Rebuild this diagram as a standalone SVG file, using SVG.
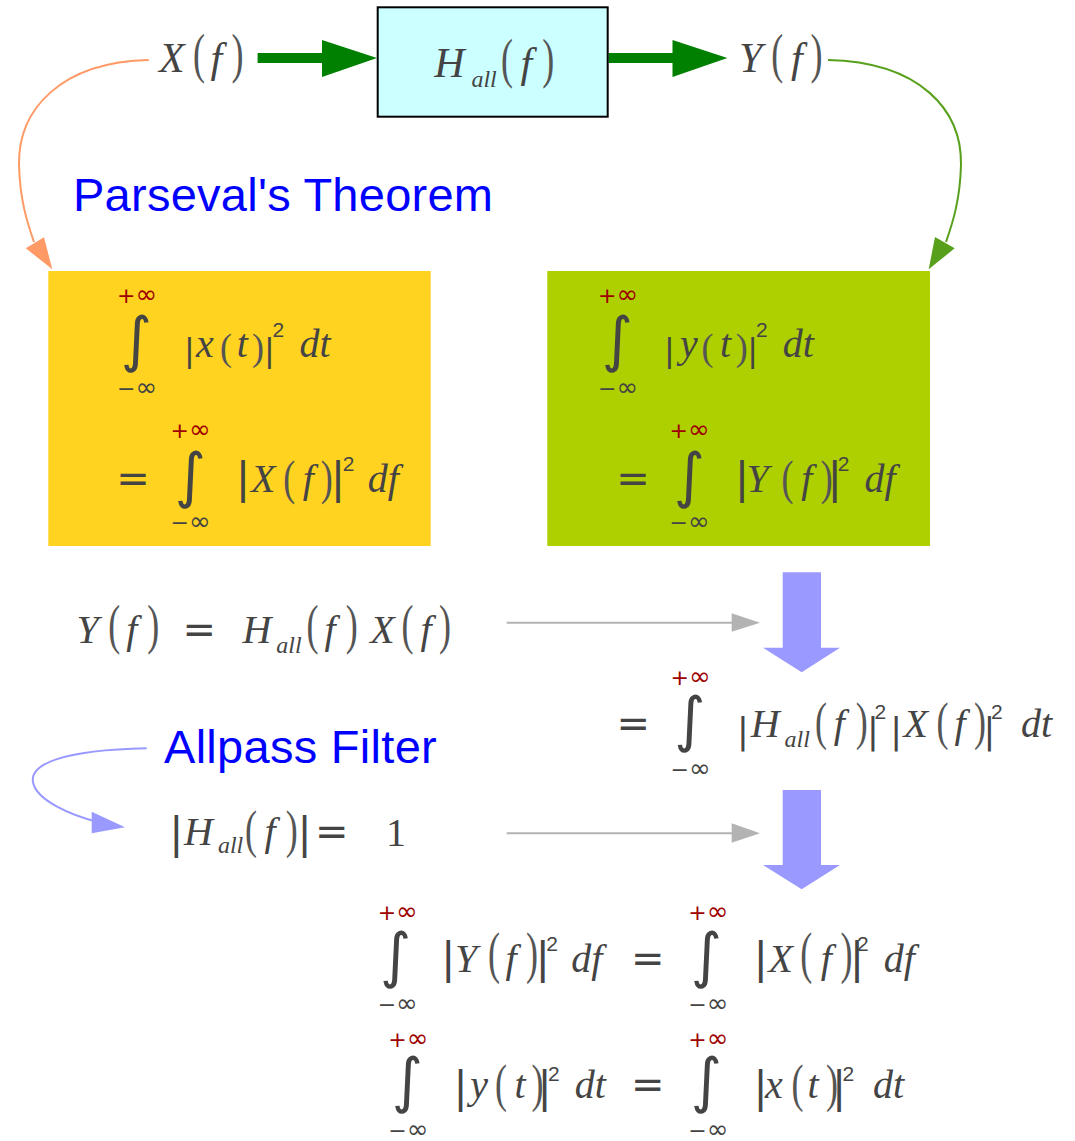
<svg xmlns="http://www.w3.org/2000/svg" width="1075" height="1141" viewBox="0 0 1075 1141">
<style>
.m{font-family:"Liberation Serif",serif;font-style:italic;font-size:40px;fill:#444}
.mt{font-size:42px}
.p{font-family:"Liberation Serif",serif;font-size:36px;fill:#555}
.b{font-family:"DejaVu Sans",sans-serif;fill:#444}
.sub{font-family:"Liberation Serif",serif;font-style:italic;font-size:24px;fill:#444}
.sup{font-family:"Liberation Sans",sans-serif;font-size:21px;fill:#444}
.eq{font-family:"DejaVu Sans",sans-serif;font-size:40px;fill:#444;text-anchor:middle}
.lim{font-family:"DejaVu Sans",sans-serif;font-size:22px;text-anchor:middle}
.inf{font-size:26px}
.hi{fill:#9e0000}
.lo{fill:#444}
.int{font-family:"DejaVu Sans",sans-serif;font-size:60px;fill:#444;text-anchor:middle}
.lbl{font-family:"Liberation Sans",sans-serif;font-size:47px;fill:#0000ff}
.one{font-family:"Liberation Serif",serif;font-size:40px;fill:#444}
.gray{stroke:#b3b3b3;stroke-width:2;fill:none}
.grayh{fill:#b3b3b3}
.blk{fill:#9999ff}
</style>
<g id="connectors">
<line x1="257.6" y1="58" x2="323" y2="58" stroke="#008000" stroke-width="10"/>
<polygon points="322,40 377,58 322,77" fill="#008000"/>
<line x1="608.6" y1="58" x2="673.5" y2="58" stroke="#008000" stroke-width="10"/>
<polygon points="672.5,40 727.4,58 672.5,77" fill="#008000"/>
<path d="M148.8,60 C60,62 18,110 19,165 C20,200 27,222 34,242" fill="none" stroke="#ff9966" stroke-width="2"/>
<polygon points="25.8,248.3 44,237.3 52.3,269.3" fill="#ff9966"/>
<path d="M828,60 C920,62 962,110 961,165 C960,200 953,222 946,242" fill="none" stroke="#58a01c" stroke-width="2"/>
<polygon points="935,237 954.7,248.3 928.7,269.3" fill="#58a01c"/>
<line class="gray" x1="506.7" y1="622.7" x2="733" y2="622.7"/>
<polygon class="grayh" points="731.7,613.3 760,622.7 731.7,631.7"/>
<line class="gray" x1="506.7" y1="833.3" x2="733" y2="833.3"/>
<polygon class="grayh" points="731.7,823.3 760,833.3 731.7,842.7"/>
<polygon class="blk" points="782.7,572.3 821,572.3 821,647.7 840,647.7 801.7,672.3 763,647.7 782.7,647.7"/>
<polygon class="blk" points="782.7,790 821,790 821,865 840,865 801.7,889.3 763,865 782.7,865"/>
<path d="M146.7,748.3 C60,750 30,765 33,782 C36,800 70,815 98,822" fill="none" stroke="#9999ff" stroke-width="2"/>
<polygon class="blk" points="91.7,811.7 91.7,833.3 125,827.3"/>
</g>
<g id="input-X">
<text class="m mt" x="159" y="72">X</text>
<text class="p" transform="translate(192.9,72.2) scale(1,1.531)">(</text>
<text class="m mt" x="210.4" y="72">f</text>
<text class="p" transform="translate(231.4,72.2) scale(1,1.531)">)</text>
</g>
<g id="filter-H">
<rect x="377.7" y="7.3" width="230" height="109.4" fill="#ccffff" stroke="#000" stroke-width="2"/>
<text class="m mt" x="434.3" y="77">H</text>
<text class="sub" x="471.4" y="87">all</text>
<text class="p" transform="translate(501.1,77.2) scale(1,1.531)">(</text>
<text class="m mt" x="520.4" y="77">f</text>
<text class="p" transform="translate(542.2,77.2) scale(1,1.531)">)</text>
</g>
<g id="output-Y">
<text class="m mt" x="739.1" y="72">Y</text>
<text class="p" transform="translate(771.3,72.2) scale(1,1.531)">(</text>
<text class="m mt" x="790.9" y="72">f</text>
<text class="p" transform="translate(810.5,72.2) scale(1,1.531)">)</text>
</g>
<g id="label-parseval">
<text class="lbl" x="73" y="211" textLength="420">Parseval's Theorem</text>
</g>
<g id="box-x">
<rect x="48.3" y="271" width="382.4" height="275" fill="#ffd320"/>
<text class="lim hi" x="137" y="303">+<tspan class="inf">∞</tspan></text>
<text class="int" x="136.5" y="360">∫</text>
<text class="lim lo" x="137" y="396">−<tspan class="inf">∞</tspan></text>
<text class="b" font-size="32" x="183.9" y="360.7">|</text>
<text class="m" x="196.1" y="357">x</text>
<text class="p" transform="translate(220,360.3) scale(1,1.042)">(</text>
<text class="m" x="236.7" y="357">t</text>
<text class="p" transform="translate(252,360.3) scale(1,1.042)">)</text>
<text class="b" font-size="32" x="263.9" y="360.7">|</text>
<text class="sup" x="272.4" y="337">2</text>
<text class="m" x="299.4" y="357">dt</text>
<text class="eq" x="133" y="491.7">=</text>
<text class="lim hi" x="190.5" y="438">+<tspan class="inf">∞</tspan></text>
<text class="int" x="190.5" y="496">∫</text>
<text class="lim lo" x="190.5" y="530">−<tspan class="inf">∞</tspan></text>
<text class="b" font-size="43" x="235.8" y="492.9">|</text>
<text class="m" x="251" y="491.7">X</text>
<text class="p" transform="translate(283.3,494.4) scale(1,1.336)">(</text>
<text class="m" x="302.7" y="491.7">f</text>
<text class="p" transform="translate(320.7,494.4) scale(1,1.336)">)</text>
<text class="b" font-size="43" x="330.8" y="492.9">|</text>
<text class="sup" x="342.7" y="471">2</text>
<text class="m" x="367.7" y="491.7">df</text>
</g>
<g id="box-y">
<rect x="547.3" y="271" width="382.7" height="275" fill="#aecf00"/>
<text class="lim hi" x="618" y="303">+<tspan class="inf">∞</tspan></text>
<text class="int" x="617.5" y="360">∫</text>
<text class="lim lo" x="618" y="396">−<tspan class="inf">∞</tspan></text>
<text class="b" font-size="32" x="663.9" y="360.7">|</text>
<text class="m" x="679.9" y="357">y</text>
<text class="p" transform="translate(701.6,360.3) scale(1,1.042)">(</text>
<text class="m" x="720" y="357">t</text>
<text class="p" transform="translate(735.7,360.3) scale(1,1.042)">)</text>
<text class="b" font-size="32" x="747.3" y="360.7">|</text>
<text class="sup" x="756.1" y="337">2</text>
<text class="m" x="782.7" y="357">dt</text>
<text class="eq" x="633" y="491.7">=</text>
<text class="lim hi" x="689.5" y="438">+<tspan class="inf">∞</tspan></text>
<text class="int" x="689.5" y="496">∫</text>
<text class="lim lo" x="689.5" y="530">−<tspan class="inf">∞</tspan></text>
<text class="b" font-size="43" x="734.8" y="492.9">|</text>
<text class="m" x="746.6" y="491.7">Y</text>
<text class="p" transform="translate(781.6,494.4) scale(1,1.336)">(</text>
<text class="m" x="801.2" y="491.7">f</text>
<text class="p" transform="translate(820.7,494.4) scale(1,1.336)">)</text>
<text class="b" font-size="43" x="827.4" y="492.9">|</text>
<text class="sup" x="837.7" y="471">2</text>
<text class="m" x="864.4" y="491.7">df</text>
</g>
<g id="eq-product">
<text class="m" x="76.6" y="642.7">Y</text>
<text class="p" transform="translate(108.3,643.1) scale(1,1.498)">(</text>
<text class="m" x="126.2" y="642.7">f</text>
<text class="p" transform="translate(147.3,643.1) scale(1,1.498)">)</text>
<text class="eq" x="199.2" y="642.7">=</text>
<text class="m" x="242.4" y="642.7">H</text>
<text class="sub" x="276.3" y="652.7">all</text>
<text class="p" transform="translate(306.6,643.1) scale(1,1.498)">(</text>
<text class="m" x="324.5" y="642.7">f</text>
<text class="p" transform="translate(345.7,643.1) scale(1,1.498)">)</text>
<text class="m" x="370.2" y="642.7">X</text>
<text class="p" transform="translate(401.6,643.1) scale(1,1.498)">(</text>
<text class="m" x="420.4" y="642.7">f</text>
<text class="p" transform="translate(439,643.1) scale(1,1.498)">)</text>
</g>
<g id="eq-substituted">
<text class="eq" x="633.3" y="737.3">=</text>
<text class="lim hi" x="690.5" y="685">+<tspan class="inf">∞</tspan></text>
<text class="int" x="690" y="739.7">∫</text>
<text class="lim lo" x="690.5" y="776.7">−<tspan class="inf">∞</tspan></text>
<text class="b" font-size="35" x="736.9" y="743.4">|</text>
<text class="m" x="750.7" y="737.3">H</text>
<text class="sub" x="784.6" y="747.3">all</text>
<text class="p" transform="translate(815,738.9) scale(1,1.466)">(</text>
<text class="m" x="833.7" y="737.3">f</text>
<text class="p" transform="translate(855.7,738.9) scale(1,1.466)">)</text>
<text class="b" font-size="35" x="866.9" y="743.4">|</text>
<text class="sup" x="874.4" y="719.3">2</text>
<text class="b" font-size="35" x="890.2" y="743.4">|</text>
<text class="m" x="903.5" y="737.3">X</text>
<text class="p" transform="translate(936.6,738.9) scale(1,1.466)">(</text>
<text class="m" x="954.5" y="737.3">f</text>
<text class="p" transform="translate(974,738.9) scale(1,1.466)">)</text>
<text class="b" font-size="35" x="983.5" y="743.4">|</text>
<text class="sup" x="991.1" y="719.3">2</text>
<text class="m" x="1021.1" y="737.3">dt</text>
</g>
<g id="label-allpass">
<text class="lbl" x="164" y="763.3" textLength="272.7">Allpass Filter</text>
</g>
<g id="eq-allpass">
<text class="b" font-size="42" x="169.2" y="848.4">|</text>
<text class="m" x="184" y="845">H</text>
<text class="sub" x="217.9" y="853.3">all</text>
<text class="p" transform="translate(245,847.3) scale(1,1.466)">(</text>
<text class="m" x="264.5" y="845">f</text>
<text class="p" transform="translate(285.7,847.3) scale(1,1.466)">)</text>
<text class="b" font-size="42" x="297.5" y="848.4">|</text>
<text class="eq" x="331.7" y="845">=</text>
<text class="one" x="386" y="846">1</text>
</g>
<g id="eq-result-f">
<text class="lim hi" x="397.7" y="920">+<tspan class="inf">∞</tspan></text>
<text class="int" x="395.7" y="976">∫</text>
<text class="lim lo" x="397.7" y="1011.7">−<tspan class="inf">∞</tspan></text>
<text class="b" font-size="43" x="440.9" y="973.2">|</text>
<text class="m" x="455" y="971.7">Y</text>
<text class="p" transform="translate(487.9,971.6) scale(1,1.577)">(</text>
<text class="m" x="505.6" y="971.7">f</text>
<text class="p" transform="translate(526,971.6) scale(1,1.577)">)</text>
<text class="b" font-size="43" x="535.5" y="973.2">|</text>
<text class="sup" x="546.2" y="951">2</text>
<text class="m" x="571.2" y="971.7">df</text>
<text class="eq" x="647.7" y="971.7">=</text>
<text class="lim hi" x="708.3" y="920">+<tspan class="inf">∞</tspan></text>
<text class="int" x="706.5" y="976">∫</text>
<text class="lim lo" x="708.3" y="1011.7">−<tspan class="inf">∞</tspan></text>
<text class="b" font-size="43" x="753.4" y="973.2">|</text>
<text class="m" x="768.5" y="971.7">X</text>
<text class="p" transform="translate(800.3,971.6) scale(1,1.577)">(</text>
<text class="m" x="820.7" y="971.7">f</text>
<text class="p" transform="translate(840.4,971.6) scale(1,1.577)">)</text>
<text class="b" font-size="43" x="849.8" y="973.2">|</text>
<text class="sup" x="856.9" y="951">2</text>
<text class="m" x="883.7" y="971.7">df</text>
</g>
<g id="eq-result-t">
<text class="lim hi" x="408.3" y="1046.7">+<tspan class="inf">∞</tspan></text>
<text class="int" x="407.4" y="1101">∫</text>
<text class="lim lo" x="408.3" y="1138">−<tspan class="inf">∞</tspan></text>
<text class="b" font-size="42" x="453.5" y="1101.8">|</text>
<text class="m" x="470.3" y="1098.3">y</text>
<text class="p" transform="translate(495.1,1100.6) scale(1,1.466)">(</text>
<text class="m" x="514.6" y="1098.3">t</text>
<text class="p" transform="translate(531.5,1100.6) scale(1,1.466)">)</text>
<text class="b" font-size="42" x="537.4" y="1101.8">|</text>
<text class="sup" x="548" y="1081">2</text>
<text class="m" x="574.8" y="1098.3">dt</text>
<text class="eq" x="647.7" y="1098.3">=</text>
<text class="lim hi" x="708.3" y="1046.7">+<tspan class="inf">∞</tspan></text>
<text class="int" x="706.5" y="1101">∫</text>
<text class="lim lo" x="708.3" y="1138">−<tspan class="inf">∞</tspan></text>
<text class="b" font-size="42" x="753.5" y="1101.8">|</text>
<text class="m" x="765.1" y="1098.3">x</text>
<text class="p" transform="translate(791.5,1100.6) scale(1,1.466)">(</text>
<text class="m" x="807.5" y="1098.3">t</text>
<text class="p" transform="translate(826,1100.6) scale(1,1.466)">)</text>
<text class="b" font-size="42" x="832.1" y="1101.8">|</text>
<text class="sup" x="842.6" y="1081">2</text>
<text class="m" x="873" y="1098.3">dt</text>
</g>
</svg>
